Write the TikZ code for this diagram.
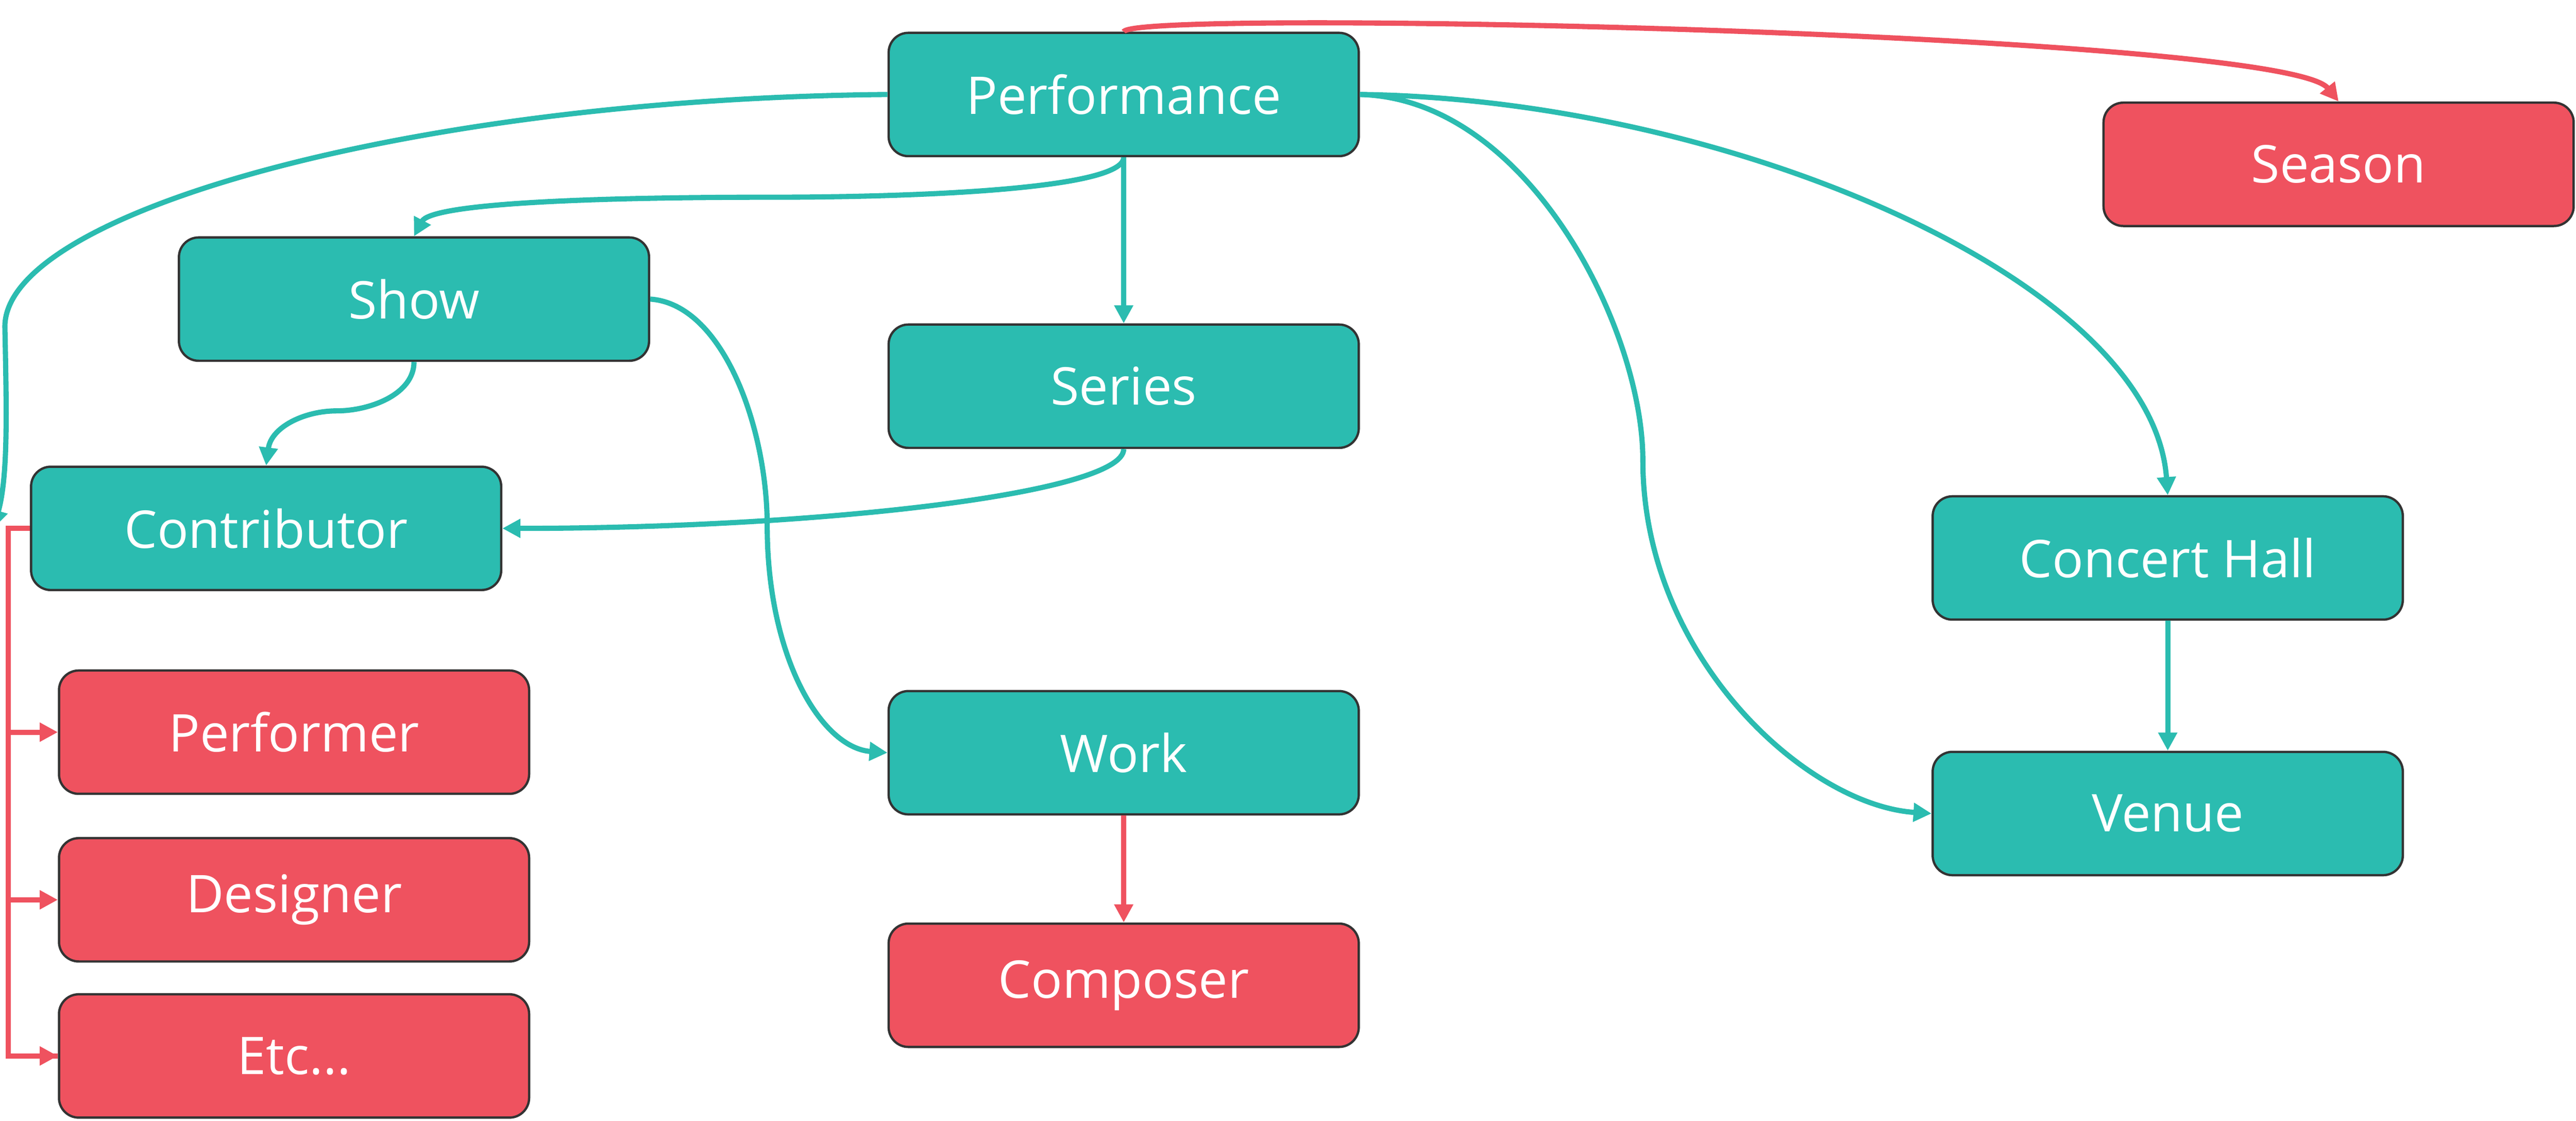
\documentclass[tikz,border=0pt]{standalone}
\usepackage{fontspec}
\setmainfont{Open Sans}
\usetikzlibrary{arrows.meta}
\definecolor{tealbox}{HTML}{2BBCB0}
\definecolor{redbox}{HTML}{EF525F}
\begin{document}
\begin{tikzpicture}[x=0.01cm, y=-0.01cm]
        % ================= styles =================
        \tikzset{
            % boxes
            tbox/.style={rectangle, rounded corners=1.2mm, draw=black!80, line width=0.4pt, fill=tealbox, text=white, minimum width=2.86cm, minimum height=0.75cm, inner sep=0pt, font=\fontsize{9}{11}\selectfont},
            rbox/.style={tbox, fill=redbox},
            % links
            tlink/.style={line width=0.9pt, tealbox, -{Triangle[length=1.1mm, width=1.1mm]}},
            rlink/.style={line width=0.9pt, redbox, -{Triangle[length=1.1mm, width=1.1mm]}}
        }
        \useasboundingbox (0,0) rectangle (1568,682);

        % ================= nodes =================
        \node[tbox] (perf) at (684,57.5) {Performance};
        \node[rbox] (season) at (1423.5,100) {Season};
        \node[tbox] (show) at (252,182) {Show};
        \node[tbox] (series) at (684,235) {Series};
        \node[tbox] (contrib) at (162,321.5) {Contributor};
        \node[tbox] (hall) at (1319.5,339.5) {Concert Hall};
        \node[rbox] (performer) at (179,445.5) {Performer};
        \node[tbox] (work) at (684,458) {Work};
        \node[tbox] (venue) at (1319.5,495) {Venue};
        \node[rbox] (designer) at (179,547.5) {Designer};
        \node[rbox] (composer) at (684,599.5) {Composer};
        \node[rbox] (etc) at (179,642.5) {Etc...};

        \coordinate (cbar) at (5,321.5);

        % ================= links =================
        \draw[rlink] (perf.north) .. controls (690,5) and (1390,20) .. (season.north);
        \draw[tlink] (perf.west) .. controls (250,60) and (0,130) .. (3,200) .. controls (4,250) and (5,290) .. ([xshift=-7\pgflinewidth]contrib.west);
        \draw[tlink] (perf.south) .. controls (684,115) and (560,120) .. (470,120) .. controls (340,120) and (262,125) .. (show.north);
        \draw[tlink] (perf.south) -- (series.north);
        \draw[tlink] (perf.east) .. controls (930,60) and (1000,200) .. (1000,280) .. controls (1000,400) and (1100,490) .. (venue.west);
        \draw[tlink] (perf.east) .. controls (1050,60) and (1310,170) .. (hall.north);
        \draw[tlink] (show.south) .. controls (252,240) and (225,250) .. (205,250) .. controls (185,250) and (165,260) .. (contrib.north);
        \draw[tlink] (show.east) .. controls (440,185) and (467,260) .. (467,320) .. controls (467,400) and (500,455) .. (work.west);
        \draw[tlink] (series.south) .. controls (684,300) and (500,321.5) .. (contrib.east);
        \draw[tlink] (hall.south) -- (venue.north);
        \draw[rlink] (work.south) -- (composer.north);

        % contributor kinds
        \draw[redbox, line width=0.9pt] (contrib.west) -- (cbar) |- (etc.west);
        \draw[rlink] (cbar |- performer.west) -- (performer.west);
        \draw[rlink] (cbar |- designer.west) -- (designer.west);
        \draw[rlink] (cbar |- etc.west) -- (etc.west);

    \end{tikzpicture}
\end{document}
